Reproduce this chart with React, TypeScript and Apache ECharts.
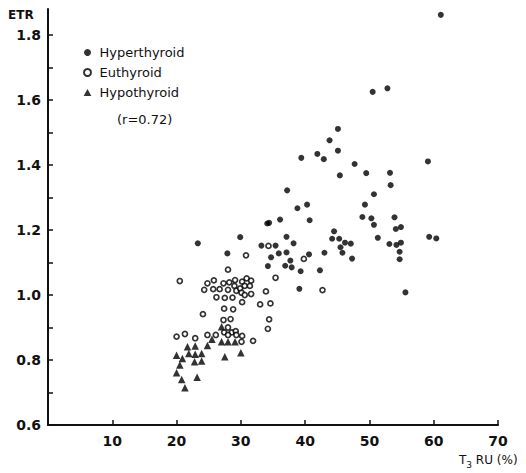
import React, { useEffect, useRef } from "react";
import * as echarts from "echarts";

// T3RU (%) vs ETR
const hyperPoints: [number, number][] = [
  [61.1, 1.862], [50.5, 1.625], [52.8, 1.636], [45.1, 1.511], [43.8, 1.476],
  [45.1, 1.444], [39.4, 1.422], [41.9, 1.434], [42.9, 1.418], [47.7, 1.403],
  [45.4, 1.368], [49.5, 1.375], [53.2, 1.376], [53.3, 1.338], [59.1, 1.411],
  [37.2, 1.322], [50.7, 1.31], [38.8, 1.267], [40.3, 1.278], [49.3, 1.278],
  [34.4, 1.222], [34.1, 1.22], [36.1, 1.232], [40.7, 1.23], [48.9, 1.24],
  [50.3, 1.236], [50.7, 1.216], [53.9, 1.239], [54.1, 1.203], [54.9, 1.209],
  [44.5, 1.196], [37.1, 1.179], [44.2, 1.173], [45.3, 1.173], [51.3, 1.176],
  [59.3, 1.179], [60.4, 1.174], [46.2, 1.161], [47.1, 1.158], [45.5, 1.147],
  [45.8, 1.13], [47.3, 1.112], [53.1, 1.157], [54.2, 1.154], [54.9, 1.161],
  [54.7, 1.133], [54.7, 1.11], [55.6, 1.008], [38.2, 1.159], [35.9, 1.128],
  [34.7, 1.116], [34.2, 1.089], [35.4, 1.152], [37.1, 1.131], [37.7, 1.106],
  [36.9, 1.09], [37.9, 1.085], [40.6, 1.125], [39.3, 1.073], [39.1, 1.019],
  [42.3, 1.076], [43.0, 1.13], [29.9, 1.178], [33.2, 1.152], [23.3, 1.159],
  [27.9, 1.128],
];

const euPoints: [number, number][] = [
  [39.8, 1.111], [35.4, 1.053], [33.9, 1.011], [34.6, 0.974], [34.4, 0.925],
  [34.2, 0.896], [42.7, 1.015], [34.3, 1.151], [30.8, 1.122], [33.0, 0.971],
  [30.2, 0.978], [28.0, 1.078], [20.5, 1.043], [24.8, 1.036], [25.8, 1.045],
  [24.3, 1.016], [25.7, 1.018], [26.7, 1.018], [27.3, 1.036], [28.2, 1.039],
  [29.1, 1.046], [28.0, 1.016], [29.0, 1.028], [29.3, 1.013], [29.9, 1.02],
  [30.2, 1.041], [30.9, 1.051], [31.6, 1.044], [30.6, 1.028], [31.4, 1.028],
  [30.1, 1.007], [30.6, 1.0], [31.6, 1.003], [26.2, 0.993], [27.5, 0.991],
  [28.7, 0.992], [27.4, 0.958], [28.8, 0.956], [24.1, 0.941], [27.3, 0.923],
  [28.4, 0.926], [20.0, 0.872], [21.3, 0.88], [22.9, 0.867], [24.8, 0.877],
  [26.1, 0.877], [31.9, 0.859], [28.0, 0.9], [27.4, 0.885], [28.6, 0.885],
  [29.2, 0.889], [28.0, 0.877], [29.3, 0.877], [30.2, 0.874], [30.1, 0.856],
];

const hypoPoints: [number, number][] = [
  [21.7, 0.841], [22.9, 0.843], [24.8, 0.845], [20.0, 0.815], [20.9, 0.805],
  [21.9, 0.82], [22.9, 0.818], [23.9, 0.82], [22.8, 0.795], [23.9, 0.797],
  [20.5, 0.785], [20.0, 0.761], [20.8, 0.74], [21.3, 0.715], [23.2, 0.747],
  [25.5, 0.864], [27.0, 0.902], [27.0, 0.856], [28.0, 0.856], [29.1, 0.856],
  [27.5, 0.81], [30.0, 0.822],
];

const seriesNames = ["Hyperthyroid", "Euthyroid", "Hypothyroid"];
const xRange = [0, 70];
const yRange = [0.6, 1.88];

const FONT = "DejaVu Sans";
const INK = "#111";

export default function App() {
  const ref = useRef<HTMLDivElement>(null);
  useEffect(() => {
    if (!ref.current) return;
    const chart = echarts.init(ref.current, undefined, { renderer: "svg" });
    chart.setOption({
      animation: false,
      backgroundColor: "#fff",
      grid: { left: 48, right: 28, top: 9, bottom: 48 },
      xAxis: {
        type: "value",
        min: xRange[0],
        max: xRange[1],
        interval: 10,
        axisLine: { show: true, lineStyle: { color: INK, width: 2 } },
        axisTick: { show: true, inside: true, length: 5, lineStyle: { color: INK, width: 1.5 } },
        axisLabel: {
          showMinLabel: false,
          color: INK,
          fontFamily: FONT,
          fontSize: 14,
          fontWeight: "bold",
          margin: 9,
        },
        splitLine: { show: false },
      },
      yAxis: {
        type: "value",
        min: yRange[0],
        max: yRange[1],
        interval: 0.1,
        axisLine: { show: true, lineStyle: { color: INK, width: 2 } },
        axisTick: { show: true, inside: true, length: 5, lineStyle: { color: INK, width: 1.5 } },
        axisLabel: {
          showMaxLabel: false,
          color: INK,
          fontFamily: FONT,
          fontSize: 14,
          fontWeight: "bold",
          margin: 7,
          formatter: (v: number) => {
            const k = Math.round(v * 10);
            return k % 2 === 0 && Math.abs(v * 10 - k) < 1e-6 ? (k / 10).toFixed(1) : "";
          },
        },
        splitLine: { show: false },
      },
      legend: {
        orient: "vertical",
        left: 78,
        top: 41,
        itemWidth: 14,
        itemHeight: 7,
        itemGap: 7,
        textStyle: { color: INK, fontFamily: FONT, fontSize: 13, lineHeight: 13 },
        data: [
          { name: seriesNames[0], icon: "circle" },
          { name: seriesNames[1], icon: "circle" },
          { name: seriesNames[2], icon: "path://M5,0 L10,9 L0,9 Z" },
        ],
      },
      graphic: [
        {
          type: "text",
          left: 8,
          top: 9,
          style: { text: "ETR", fill: INK, font: `bold 12px "${FONT}"` },
        },
        {
          type: "text",
          left: 117,
          top: 113,
          style: { text: "(r=0.72)", fill: INK, font: `13px "${FONT}"` },
        },
        {
          type: "text",
          left: 459,
          top: 454,
          style: {
            text: "{t|T}{s|3}{t| RU (%)}",
            fill: INK,
            rich: {
              t: { fontFamily: FONT, fontSize: 12, fill: INK, verticalAlign: "bottom" },
              s: { fontFamily: FONT, fontSize: 9, fill: INK, verticalAlign: "bottom", padding: [0, 0, -3, 0] },
            },
          },
        },
      ],
      series: [
        {
          name: seriesNames[0],
          type: "scatter",
          data: hyperPoints,
          symbol: "circle",
          symbolSize: 6,
          itemStyle: { color: "#000" },
        },
        {
          name: seriesNames[2],
          type: "scatter",
          data: hypoPoints,
          symbol: "triangle",
          symbolSize: 7.5,
          itemStyle: { color: "#000" },
        },
        {
          name: seriesNames[1],
          type: "scatter",
          data: euPoints,
          symbol: "circle",
          symbolSize: 5,
          itemStyle: { color: "#fff", borderColor: "#000", borderWidth: 1.7 },
        },
      ],
    });
    return () => chart.dispose();
  }, []);
  return (
    <div
      ref={ref}
      style={{ position: "absolute", left: 0, top: 0, width: 526, height: 473 }}
    />
  );
}
